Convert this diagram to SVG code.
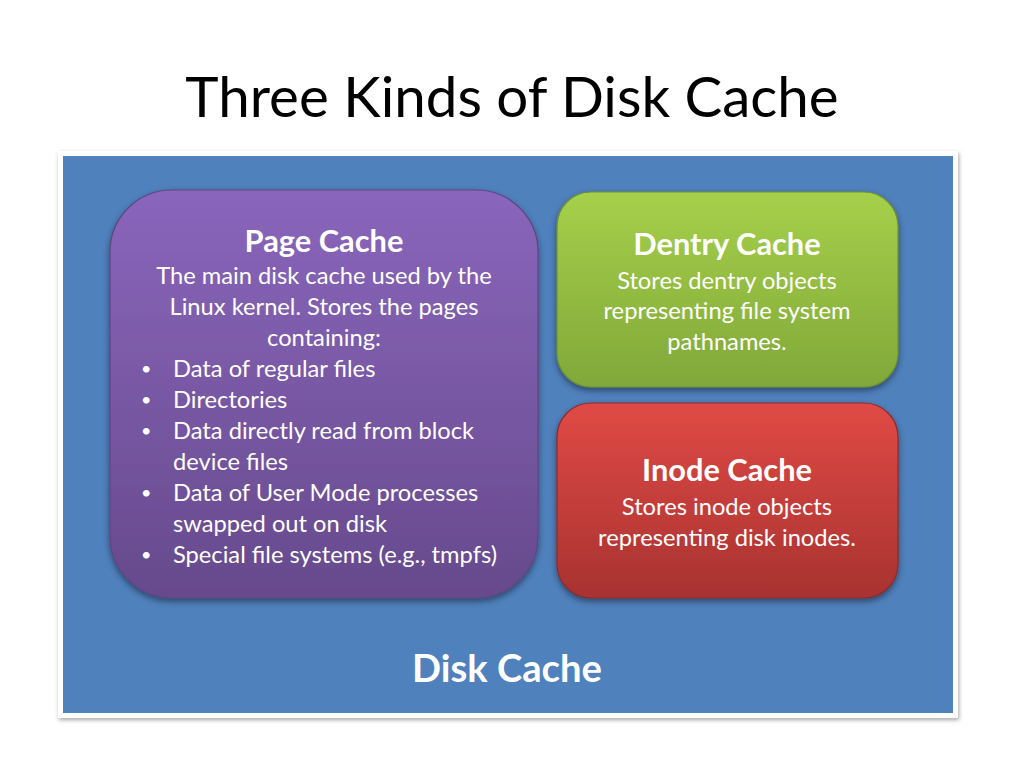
<svg xmlns="http://www.w3.org/2000/svg" width="1024" height="768" viewBox="0 0 1024 768">
<defs>
<linearGradient id="gP" x1="0" y1="0" x2="0" y2="1"><stop offset="0" stop-color="#8A66BC"/><stop offset="1" stop-color="#664A8C"/></linearGradient>
<linearGradient id="gG" x1="0" y1="0" x2="0" y2="1"><stop offset="0" stop-color="#A6D04A"/><stop offset="1" stop-color="#80A83A"/></linearGradient>
<linearGradient id="gR" x1="0" y1="0" x2="0" y2="1"><stop offset="0" stop-color="#E04A45"/><stop offset="1" stop-color="#A83230"/></linearGradient>
<filter id="sh" x="-10%" y="-10%" width="120%" height="125%"><feDropShadow dx="0" dy="3" stdDeviation="3" flood-color="#000" flood-opacity="0.45"/></filter>
<filter id="sh2" x="-5%" y="-5%" width="110%" height="110%"><feDropShadow dx="1" dy="2" stdDeviation="2" flood-color="#000" flood-opacity="0.35"/></filter>
</defs>
<style>
text{font-family:Lato,"Open Sans","Liberation Sans",sans-serif;fill:#fff}
.t{font-size:30.8px;font-weight:bold;text-anchor:middle}
.b{font-size:23.7px;text-anchor:middle}
.l{font-size:23.7px}
.d{font-size:18px}
.box{stroke-width:1.2}
</style>
<rect width="1024" height="768" fill="#fff"/>
<text x="512" y="117" style="font-size:56.5px;fill:#000;text-anchor:middle">Three Kinds of Disk Cache</text>
<g id="disk-cache">
<rect x="58" y="151" width="900" height="567" fill="#fff" filter="url(#sh2)"/>
<rect x="63" y="156" width="890" height="557" fill="#4F81BD"/>
<text x="507" y="682" style="font-size:38.2px;font-weight:bold;text-anchor:middle">Disk Cache</text>
</g>
<g id="page-cache">
<rect class="box" x="110" y="190" width="428" height="408" rx="62" fill="url(#gP)" stroke="#5E4480" filter="url(#sh)"/>
<text class="t" x="324" y="252">Page Cache</text>
<text class="b" x="324" y="284">The main disk cache used by the</text>
<text class="b" x="324" y="315">Linux kernel. Stores the pages</text>
<text class="b" x="324" y="346">containing:</text>
<text class="d" x="141" y="375">•</text><text class="l" x="173" y="377">Data of regular files</text>
<text class="d" x="141" y="406">•</text><text class="l" x="173" y="408">Directories</text>
<text class="d" x="141" y="437">•</text><text class="l" x="173" y="439">Data directly read from block</text>
<text class="l" x="173" y="470">device files</text>
<text class="d" x="141" y="499">•</text><text class="l" x="173" y="501">Data of User Mode processes</text>
<text class="l" x="173" y="532">swapped out on disk</text>
<text class="d" x="141" y="561">•</text><text class="l" x="173" y="563">Special file systems (e.g., tmpfs)</text>
</g>
<g id="dentry-cache">
<rect class="box" x="557" y="192" width="341" height="195" rx="34" fill="url(#gG)" stroke="#6E8F30" filter="url(#sh)"/>
<text class="t" x="727" y="255">Dentry Cache</text>
<text class="b" x="727" y="289">Stores dentry objects</text>
<text class="b" x="727" y="319">representing file system</text>
<text class="b" x="727" y="350">pathnames.</text>
</g>
<g id="inode-cache">
<rect class="box" x="557" y="403" width="341" height="195" rx="34" fill="url(#gR)" stroke="#8E2A28" filter="url(#sh)"/>
<text class="t" x="727" y="481">Inode Cache</text>
<text class="b" x="727" y="515">Stores inode objects</text>
<text class="b" x="727" y="546">representing disk inodes.</text>
</g>
<g id="connectors"/>
</svg>
